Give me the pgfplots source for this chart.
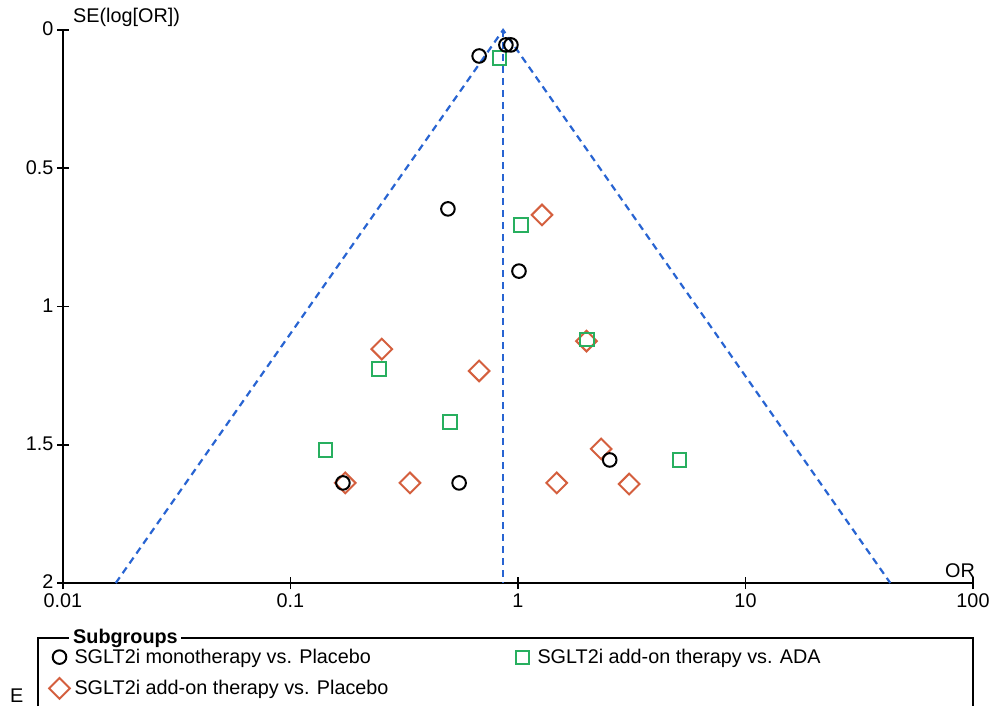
\documentclass[border=0pt]{standalone}
\usepackage{fontspec}
\setmainfont{Liberation Sans}
\usepackage{pgfplots}
\pgfplotsset{compat=1.18}
\definecolor{funnelblue}{RGB}{40,100,210}
\definecolor{dia}{RGB}{212,95,62}
\definecolor{sq}{RGB}{40,175,95}
\newcommand{\fs}{\fontsize{19.8}{23}\selectfont}
\begin{document}
\begin{tikzpicture}[x=1pt,y=1pt]
\path[use as bounding box] (0,0) rectangle (992,706);
\begin{axis}[
 at={(63pt,123pt)}, anchor=south west,
 scale only axis, width=910pt, height=553pt,
 xmode=log, xmin=0.01, xmax=100, ymin=0, ymax=2, y dir=reverse,
 axis x line=bottom, axis y line=left,
 axis line style={-, line width=1.7pt, black},
 xtick={0.01,0.1,1,10,100}, xticklabels={0.01,0.1,1,10,100},
 ytick={0,0.5,1,1.5,2}, yticklabels={0,0.5,1,1.5,2},
 xminorticks=false, yminorticks=false,
 tick align=center, major tick length=12pt,
 every tick/.style={line width=1.7pt, black},
 ticklabel style={font=\fs},
 xticklabel style={yshift=-1pt},
 yticklabel style={yshift=1pt},
 /pgf/number format/assume math mode=true,
 clip=false,
 legend columns=2,
 legend cell align=left,
 legend image code/.code={\draw[#1] plot coordinates {(7pt,0pt)}; \path (0pt,0pt) (21pt,0pt);},
 legend style={font=\fs, draw=none, fill=none, inner sep=0pt,
   nodes={inner sep=0pt}, row sep=13pt,
   at={(-0.0154,-0.1193)}, anchor=north west},
]
% funnel
\addplot[funnelblue, line width=2.2pt, dash pattern=on 7pt off 5pt, forget plot] coordinates {(0.01706,2) (0.86,0) (43.3,2)};
\addplot[funnelblue, line width=2.2pt, dash pattern=on 7pt off 5pt, forget plot] coordinates {(0.86,0) (0.86,2)};
% legend images
\addlegendimage{only marks, mark=o, mark size=6.8pt, black, line width=2pt}
\addlegendentry{\makebox[440pt][l]{SGLT2i monotherapy vs. Placebo}}
\addlegendimage{only marks, mark=square, mark size=6.6pt, sq, line width=2pt}
\addlegendentry{SGLT2i add-on therapy vs. ADA}
\addlegendimage{only marks, mark=square, mark size=7.3pt, mark options={rotate=45}, dia, line width=2pt}
\addlegendentry{SGLT2i add-on therapy vs. Placebo}
% diamonds: add-on vs placebo
\addplot[only marks, mark=square, mark size=7.3pt, mark options={rotate=45}, dia, line width=2pt, forget plot] coordinates {
(1.275,0.669) (2.0,1.125) (0.252,1.154) (0.675,1.233) (2.32,1.515)
(0.174,1.638) (0.335,1.638) (1.48,1.638) (3.08,1.642)};
% squares: add-on vs ADA
\addplot[only marks, mark=square, mark size=6.6pt, sq, line width=2pt, forget plot] coordinates {
(0.826,0.101) (1.03,0.705) (2.01,1.118) (0.245,1.226) (0.502,1.418)
(0.143,1.519) (5.11,1.555)};
% circles: monotherapy vs placebo
\addplot[only marks, mark=o, mark size=6.8pt, black, line width=2pt, forget plot] coordinates {
(0.675,0.094) (0.885,0.054) (0.931,0.054) (0.492,0.647) (1.01,0.872)
(2.53,1.555) (0.170,1.638) (0.551,1.638)};
\end{axis}
\node[anchor=south west, inner sep=0pt, font=\fs] at (73,679) {SE(log[OR])};
\node[anchor=south east, inner sep=0pt, font=\fs] at (975,128) {OR};
\node[anchor=west, inner sep=0pt, font=\fs] at (10,10) {E};
\draw[line width=1.7pt] (38,0) -- (38,68) -- (69,68);
\draw[line width=1.7pt] (181,68) -- (973,68) -- (973,0);
\node[anchor=west, inner sep=0pt, font=\fs\bfseries] at (73,68) {Subgroups};
\end{tikzpicture}
\end{document}
